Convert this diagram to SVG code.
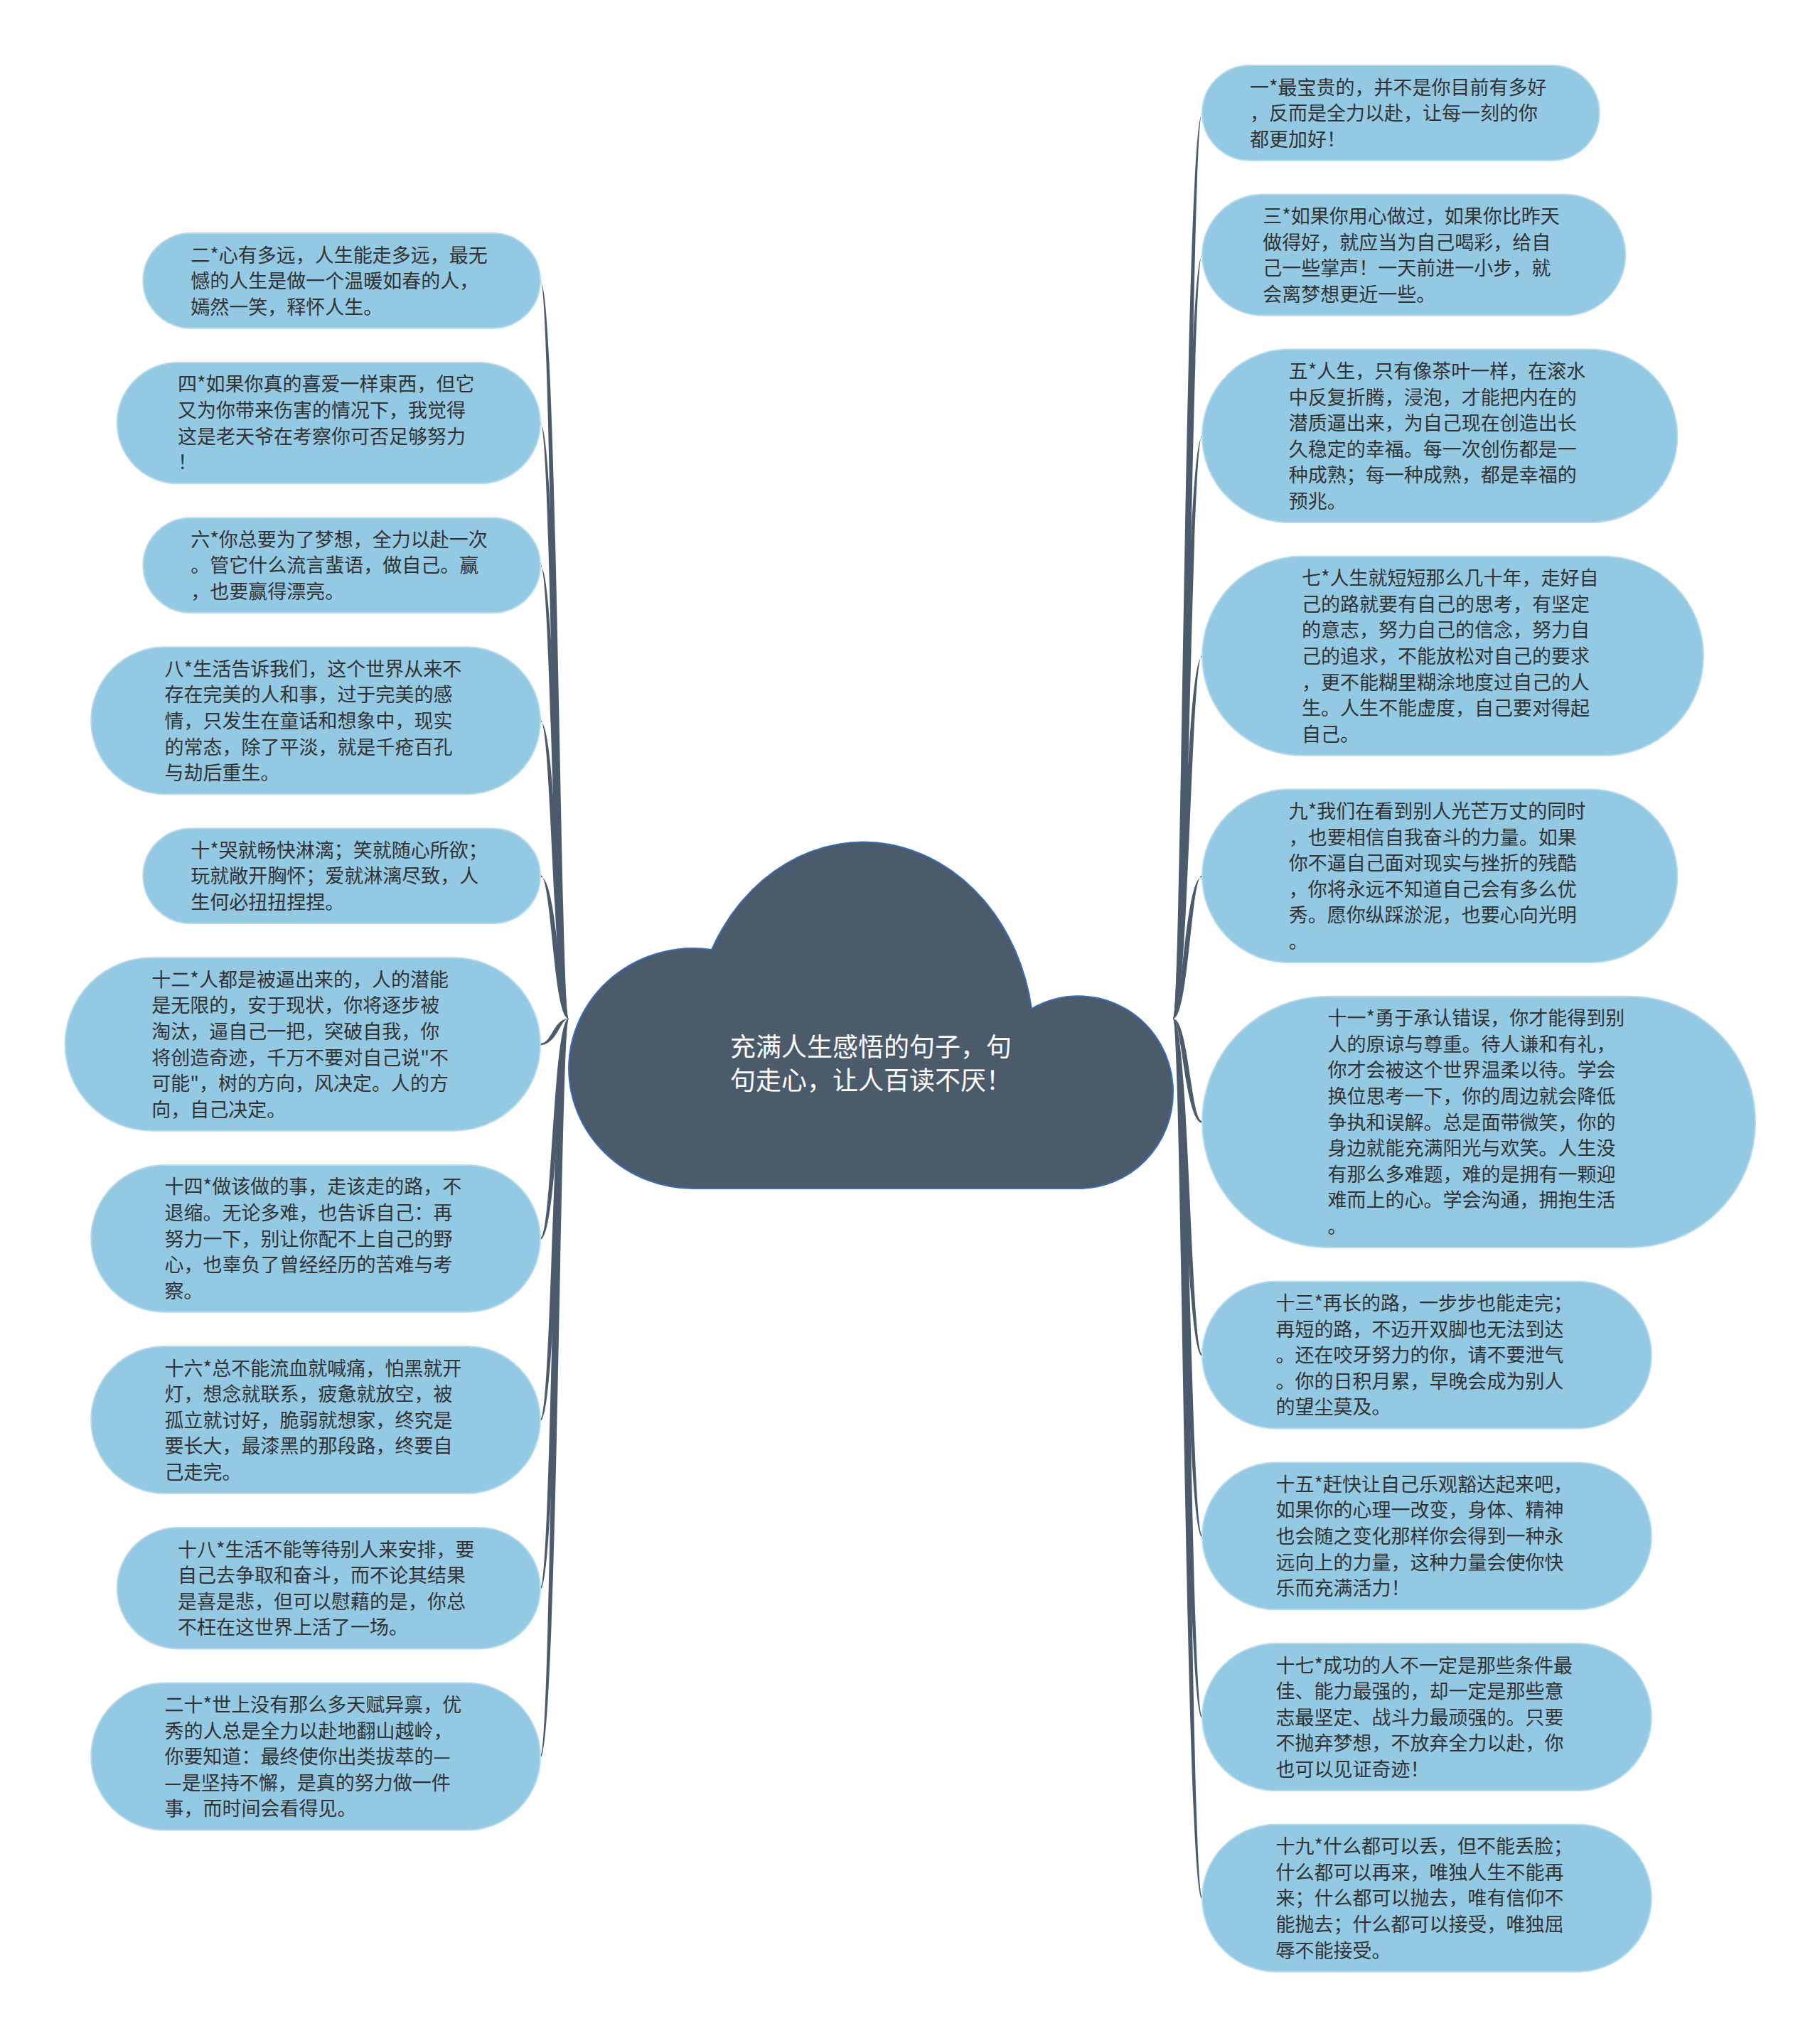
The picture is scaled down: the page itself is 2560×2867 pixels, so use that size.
<svg xmlns="http://www.w3.org/2000/svg" width="2560" height="2867" viewBox="0 0 2560 2867">
<style>
.node rect{fill:#94c9e3;stroke:#b4daed;stroke-width:2}
.node text{font-family:"Noto Sans CJK SC","Noto Sans",sans-serif;font-size:27px;fill:#333333}
.conn path{fill:#4b5b6b}
.title{font-family:"Noto Sans CJK SC","Noto Sans",sans-serif;font-size:36px;fill:#ffffff}
</style>
<rect x="0" y="0" width="2560" height="2867" fill="#ffffff"/>
<g id="connectors" class="conn">
<path d="M800,1433 C788,1433 784,394.85 760,396.25 L760,393.45 C776,394.85 778,1433 800,1433Z"/>
<path d="M800,1433 C788,1433 784,595.05 760,596.45 L760,593.65 C776,595.05 778,1433 800,1433Z"/>
<path d="M800,1433 C788,1433 784,795.25 760,796.65 L760,793.85 C776,795.25 778,1433 800,1433Z"/>
<path d="M800,1433 C788,1433 784,1013.75 760,1015.15 L760,1012.35 C776,1013.75 778,1433 800,1433Z"/>
<path d="M800,1433 C788,1433 784,1232.25 760,1233.65 L760,1230.85 C776,1232.25 778,1433 800,1433Z"/>
<path d="M800,1433 C788,1433 784,1469 760,1470.4 L760,1467.6 C776,1469 778,1433 800,1433Z"/>
<path d="M800,1433 C788,1433 784,1742.35 760,1743.75 L760,1740.95 C776,1742.35 778,1433 800,1433Z"/>
<path d="M800,1433 C788,1433 784,1997.45 760,1998.85 L760,1996.05 C776,1997.45 778,1433 800,1433Z"/>
<path d="M800,1433 C788,1433 784,2234.25 760,2235.65 L760,2232.85 C776,2234.25 778,1433 800,1433Z"/>
<path d="M800,1433 C788,1433 784,2471.05 760,2472.45 L760,2469.65 C776,2471.05 778,1433 800,1433Z"/>
<path d="M1650,1433 C1662,1433 1667,158.85 1691,160.25 L1691,157.45 C1675,158.85 1672,1433 1650,1433Z"/>
<path d="M1650,1433 C1662,1433 1667,358.65 1691,360.05 L1691,357.25 C1675,358.65 1672,1433 1650,1433Z"/>
<path d="M1650,1433 C1662,1433 1667,613.3 1691,614.7 L1691,611.9 C1675,613.3 1672,1433 1650,1433Z"/>
<path d="M1650,1433 C1662,1433 1667,922.8 1691,924.2 L1691,921.4 C1675,922.8 1672,1433 1650,1433Z"/>
<path d="M1650,1433 C1662,1433 1667,1232.3 1691,1233.7 L1691,1230.9 C1675,1232.3 1672,1433 1650,1433Z"/>
<path d="M1650,1433 C1662,1433 1667,1578.35 1691,1579.75 L1691,1576.95 C1675,1578.35 1672,1433 1650,1433Z"/>
<path d="M1650,1433 C1662,1433 1667,1906.15 1691,1907.55 L1691,1904.75 C1675,1906.15 1672,1433 1650,1433Z"/>
<path d="M1650,1433 C1662,1433 1667,2160.85 1691,2162.25 L1691,2159.45 C1675,2160.85 1672,1433 1650,1433Z"/>
<path d="M1650,1433 C1662,1433 1667,2415.55 1691,2416.95 L1691,2414.15 C1675,2415.55 1672,1433 1650,1433Z"/>
<path d="M1650,1433 C1662,1433 1667,2670.25 1691,2671.65 L1691,2668.85 C1675,2670.25 1672,1433 1650,1433Z"/>
</g>
<g id="root">
<path d="M1001,1336 A240,280 0 0 1 1451,1419 A133,135 0 0 1 1650,1537 A133,135 0 0 1 1517,1672 L975,1672 A175,170 0 0 1 800,1502 A175,170 0 0 1 1001,1336 Z" fill="#4b5b6b" stroke="#3d6db5" stroke-width="2"/>
<text class="title" x="1027" y="1486">充满人生感悟的句子，句<tspan x="1027" dy="47">句走心，让人百读不厌！</tspan></text>
</g>
<g id="n2" class="node"><rect x="201.3" y="328" width="558.7" height="133.7" rx="66.85"/><text x="268.2" y="368.5">二*心有多远，人生能走多远，最无<tspan x="268.2" dy="36.57">憾的人生是做一个温暖如春的人，</tspan><tspan x="268.2" dy="36.57">嫣然一笑，释怀人生。</tspan></text></g>
<g id="n4" class="node"><rect x="164.7" y="509.9" width="595.3" height="170.3" rx="85.15"/><text x="249.9" y="550.4">四*如果你真的喜爱一样東西，但它<tspan x="249.9" dy="36.57">又为你带来伤害的情况下，我觉得</tspan><tspan x="249.9" dy="36.57">这是老天爷在考察你可否足够努力</tspan><tspan x="249.9" dy="36.57">！</tspan></text></g>
<g id="n6" class="node"><rect x="201.3" y="728.4" width="558.7" height="133.7" rx="66.85"/><text x="268.2" y="768.9">六*你总要为了梦想，全力以赴一次<tspan x="268.2" dy="36.57">。管它什么流言蜚语，做自己。赢</tspan><tspan x="268.2" dy="36.57">，也要赢得漂亮。</tspan></text></g>
<g id="n8" class="node"><rect x="128.1" y="910.3" width="631.9" height="206.9" rx="103.45"/><text x="231.6" y="950.8">八*生活告诉我们，这个世界从来不<tspan x="231.6" dy="36.57">存在完美的人和事，过于完美的感</tspan><tspan x="231.6" dy="36.57">情，只发生在童话和想象中，现实</tspan><tspan x="231.6" dy="36.57">的常态，除了平淡，就是千疮百孔</tspan><tspan x="231.6" dy="36.57">与劫后重生。</tspan></text></g>
<g id="n10" class="node"><rect x="201.3" y="1165.4" width="558.7" height="133.7" rx="66.85"/><text x="268.2" y="1205.9">十*哭就畅快淋漓；笑就随心所欲；<tspan x="268.2" dy="36.57">玩就敞开胸怀；爱就淋漓尽致，人</tspan><tspan x="268.2" dy="36.57">生何必扭扭捏捏。</tspan></text></g>
<g id="n12" class="node"><rect x="91.6" y="1347.3" width="668.4" height="243.4" rx="121.7"/><text x="213.3" y="1387.8">十二*人都是被逼出来的，人的潜能<tspan x="213.3" dy="36.57">是无限的，安于现状，你将逐步被</tspan><tspan x="213.3" dy="36.57">淘汰，逼自己一把，突破自我，你</tspan><tspan x="213.3" dy="36.57">将创造奇迹，千万不要对自己说"不</tspan><tspan x="213.3" dy="36.57">可能"，树的方向，风决定。人的方</tspan><tspan x="213.3" dy="36.57">向，自己决定。</tspan></text></g>
<g id="n14" class="node"><rect x="128.1" y="1638.9" width="631.9" height="206.9" rx="103.45"/><text x="231.6" y="1679.4">十四*做该做的事，走该走的路，不<tspan x="231.6" dy="36.57">退缩。无论多难，也告诉自己：再</tspan><tspan x="231.6" dy="36.57">努力一下，别让你配不上自己的野</tspan><tspan x="231.6" dy="36.57">心，也辜负了曾经经历的苦难与考</tspan><tspan x="231.6" dy="36.57">察。</tspan></text></g>
<g id="n16" class="node"><rect x="128.1" y="1894" width="631.9" height="206.9" rx="103.45"/><text x="231.6" y="1934.5">十六*总不能流血就喊痛，怕黑就开<tspan x="231.6" dy="36.57">灯，想念就联系，疲惫就放空，被</tspan><tspan x="231.6" dy="36.57">孤立就讨好，脆弱就想家，终究是</tspan><tspan x="231.6" dy="36.57">要长大，最漆黑的那段路，终要自</tspan><tspan x="231.6" dy="36.57">己走完。</tspan></text></g>
<g id="n18" class="node"><rect x="164.7" y="2149.1" width="595.3" height="170.3" rx="85.15"/><text x="249.9" y="2189.6">十八*生活不能等待别人来安排，要<tspan x="249.9" dy="36.57">自己去争取和奋斗，而不论其结果</tspan><tspan x="249.9" dy="36.57">是喜是悲，但可以慰藉的是，你总</tspan><tspan x="249.9" dy="36.57">不枉在这世界上活了一场。</tspan></text></g>
<g id="n20" class="node"><rect x="128.1" y="2367.6" width="631.9" height="206.9" rx="103.45"/><text x="231.6" y="2408.1">二十*世上没有那么多天赋异禀，优<tspan x="231.6" dy="36.57">秀的人总是全力以赴地翻山越岭，</tspan><tspan x="231.6" dy="36.57">你要知道：最终使你出类拔萃的—</tspan><tspan x="231.6" dy="36.57">—是坚持不懈，是真的努力做一件</tspan><tspan x="231.6" dy="36.57">事，而时间会看得见。</tspan></text></g>
<g id="n1" class="node"><rect x="1691" y="92" width="558.7" height="133.7" rx="66.85"/><text x="1757.9" y="132.5">一*最宝贵的，并不是你目前有多好<tspan x="1757.9" dy="36.57">，反而是全力以赴，让每一刻的你</tspan><tspan x="1757.9" dy="36.57">都更加好！</tspan></text></g>
<g id="n3" class="node"><rect x="1691" y="273.5" width="595.3" height="170.3" rx="85.15"/><text x="1776.2" y="314">三*如果你用心做过，如果你比昨天<tspan x="1776.2" dy="36.57">做得好，就应当为自己喝彩，给自</tspan><tspan x="1776.2" dy="36.57">己一些掌声！一天前进一小步，就</tspan><tspan x="1776.2" dy="36.57">会离梦想更近一些。</tspan></text></g>
<g id="n5" class="node"><rect x="1691" y="491.6" width="668.4" height="243.4" rx="121.7"/><text x="1812.7" y="532.1">五*人生，只有像茶叶一样，在滚水<tspan x="1812.7" dy="36.57">中反复折腾，浸泡，才能把内在的</tspan><tspan x="1812.7" dy="36.57">潜质逼出来，为自己现在创造出长</tspan><tspan x="1812.7" dy="36.57">久稳定的幸福。每一次创伤都是一</tspan><tspan x="1812.7" dy="36.57">种成熟；每一种成熟，都是幸福的</tspan><tspan x="1812.7" dy="36.57">预兆。</tspan></text></g>
<g id="n7" class="node"><rect x="1691" y="782.8" width="705" height="280" rx="140"/><text x="1831" y="823.3">七*人生就短短那么几十年，走好自<tspan x="1831" dy="36.57">己的路就要有自己的思考，有坚定</tspan><tspan x="1831" dy="36.57">的意志，努力自己的信念，努力自</tspan><tspan x="1831" dy="36.57">己的追求，不能放松对自己的要求</tspan><tspan x="1831" dy="36.57">，更不能糊里糊涂地度过自己的人</tspan><tspan x="1831" dy="36.57">生。人生不能虚度，自己要对得起</tspan><tspan x="1831" dy="36.57">自己。</tspan></text></g>
<g id="n9" class="node"><rect x="1691" y="1110.6" width="668.4" height="243.4" rx="121.7"/><text x="1812.7" y="1151.1">九*我们在看到别人光芒万丈的同时<tspan x="1812.7" dy="36.57">，也要相信自我奋斗的力量。如果</tspan><tspan x="1812.7" dy="36.57">你不逼自己面对现实与挫折的残酷</tspan><tspan x="1812.7" dy="36.57">，你将永远不知道自己会有多么优</tspan><tspan x="1812.7" dy="36.57">秀。愿你纵踩淤泥，也要心向光明</tspan><tspan x="1812.7" dy="36.57">。</tspan></text></g>
<g id="n11" class="node"><rect x="1691" y="1401.8" width="778.1" height="353.1" rx="176.55"/><text x="1867.6" y="1442.3">十一*勇于承认错误，你才能得到别<tspan x="1867.6" dy="36.57">人的原谅与尊重。待人谦和有礼，</tspan><tspan x="1867.6" dy="36.57">你才会被这个世界温柔以待。学会</tspan><tspan x="1867.6" dy="36.57">换位思考一下，你的周边就会降低</tspan><tspan x="1867.6" dy="36.57">争执和误解。总是面带微笑，你的</tspan><tspan x="1867.6" dy="36.57">身边就能充满阳光与欢笑。人生没</tspan><tspan x="1867.6" dy="36.57">有那么多难题，难的是拥有一颗迎</tspan><tspan x="1867.6" dy="36.57">难而上的心。学会沟通，拥抱生活</tspan><tspan x="1867.6" dy="36.57">。</tspan></text></g>
<g id="n13" class="node"><rect x="1691" y="1802.7" width="631.9" height="206.9" rx="103.45"/><text x="1794.5" y="1843.2">十三*再长的路，一步步也能走完；<tspan x="1794.5" dy="36.57">再短的路，不迈开双脚也无法到达</tspan><tspan x="1794.5" dy="36.57">。还在咬牙努力的你，请不要泄气</tspan><tspan x="1794.5" dy="36.57">。你的日积月累，早晚会成为别人</tspan><tspan x="1794.5" dy="36.57">的望尘莫及。</tspan></text></g>
<g id="n15" class="node"><rect x="1691" y="2057.4" width="631.9" height="206.9" rx="103.45"/><text x="1794.5" y="2097.9">十五*赶快让自己乐观豁达起来吧，<tspan x="1794.5" dy="36.57">如果你的心理一改变，身体、精神</tspan><tspan x="1794.5" dy="36.57">也会随之变化那样你会得到一种永</tspan><tspan x="1794.5" dy="36.57">远向上的力量，这种力量会使你快</tspan><tspan x="1794.5" dy="36.57">乐而充满活力！</tspan></text></g>
<g id="n17" class="node"><rect x="1691" y="2312.1" width="631.9" height="206.9" rx="103.45"/><text x="1794.5" y="2352.6">十七*成功的人不一定是那些条件最<tspan x="1794.5" dy="36.57">佳、能力最强的，却一定是那些意</tspan><tspan x="1794.5" dy="36.57">志最坚定、战斗力最顽强的。只要</tspan><tspan x="1794.5" dy="36.57">不抛弃梦想，不放弃全力以赴，你</tspan><tspan x="1794.5" dy="36.57">也可以见证奇迹！</tspan></text></g>
<g id="n19" class="node"><rect x="1691" y="2566.8" width="631.9" height="206.9" rx="103.45"/><text x="1794.5" y="2607.3">十九*什么都可以丢，但不能丢脸；<tspan x="1794.5" dy="36.57">什么都可以再来，唯独人生不能再</tspan><tspan x="1794.5" dy="36.57">来；什么都可以抛去，唯有信仰不</tspan><tspan x="1794.5" dy="36.57">能抛去；什么都可以接受，唯独屈</tspan><tspan x="1794.5" dy="36.57">辱不能接受。</tspan></text></g>
</svg>
